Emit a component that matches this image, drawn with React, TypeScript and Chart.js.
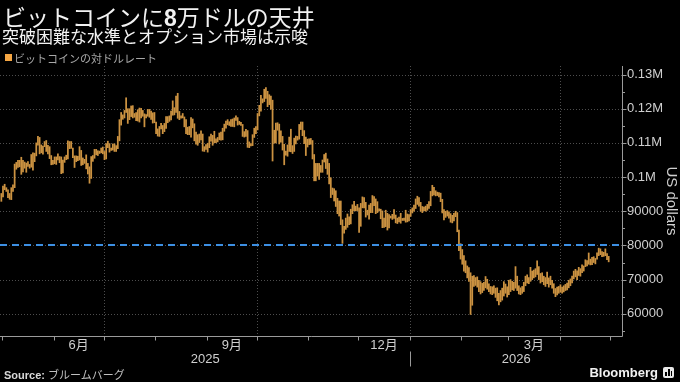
import React, { useEffect, useRef } from 'react';
import { Chart, registerables } from 'chart.js';

Chart.register(...registerables);

// ---------------- data ----------------
// first bar = 2025-04-30, one bar per day (values in thousand USD)
const START_YEAR = 2025;
const START_MONTH = 4;
const START_DAY = 30;

const lows = [
  92.9,
  // May 2025
  94.2, 96.3, 95.8, 94.0, 93.5, 93.4, 95.8, 96.9, 102.3, 102.8, 103.0, 100.8, 101.5, 102.6, 101.4, 103.1,
  102.6, 102.9, 102.0, 104.5, 106.2, 109.3, 106.8, 107.1, 106.7, 108.9, 107.5, 106.8, 105.4, 103.6, 103.7,
  // Jun
  103.9, 103.7, 105.0, 104.2, 101.0, 101.2, 104.3, 105.1, 105.3, 108.3, 108.4, 105.7, 102.8, 104.5, 104.8,
  105.0, 103.4, 103.6, 104.0, 102.4, 100.9, 98.2, 99.6, 104.6, 105.5, 106.5, 106.3, 106.9, 107.1, 106.8,
  // Jul
  105.1, 105.3, 108.6, 107.3, 107.8, 107.9, 107.5, 107.5, 108.3, 110.6, 115.2, 116.9, 117.3, 118.9, 115.7,
  116.8, 117.7, 117.3, 117.5, 116.5, 116.4, 116.1, 117.3, 117.8, 114.7, 117.3, 117.8, 117.5, 116.9, 115.8, 115.9,
  // Aug
  112.7, 112.0, 111.9, 114.1, 112.7, 113.3, 114.2, 115.9, 116.3, 116.7, 118.1, 118.2, 118.9, 117.2, 116.8,
  117.2, 117.3, 114.7, 112.7, 112.4, 112.4, 111.7, 114.4, 110.6, 109.6, 109.3, 110.1, 110.9, 107.6, 107.5, 108.1,
  // Sep
  107.3, 108.6, 110.5, 109.3, 110.0, 110.1, 110.3, 110.9, 110.8, 110.9, 113.4, 114.3, 115.3, 115.1, 114.8,
  114.8, 114.7, 116.6, 115.2, 115.4, 115.1, 111.9, 111.7, 111.9, 108.7, 108.6, 109.1, 109.2, 111.6, 112.7,
  // Oct
  113.8, 117.9, 119.3, 121.7, 122.1, 123.0, 120.6, 121.2, 119.9, 104.7, 109.9, 110.0, 113.7, 109.7, 110.2,
  107.9, 103.6, 106.4, 106.1, 107.5, 107.4, 106.9, 107.5, 109.7, 110.8, 111.1, 113.9, 112.1, 109.8, 106.3, 108.8,
  // Nov
  109.5, 109.6, 105.3, 98.9, 98.9, 100.3, 99.3, 101.4, 101.4, 104.4, 102.5, 100.8, 98.0, 94.0, 94.9,
  93.0, 91.4, 89.3, 88.6, 86.1, 80.6, 83.6, 84.7, 85.3, 86.1, 86.3, 89.3, 90.2, 90.1, 90.2,
  // Dec
  83.8, 85.6, 91.0, 91.0, 88.3, 88.9, 87.7, 89.6, 89.6, 91.6, 89.3, 89.6, 90.1, 87.8, 85.2,
  85.3, 85.5, 84.5, 85.1, 88.0, 87.6, 87.9, 86.6, 86.4, 86.9, 86.5, 87.3, 87.3, 86.8, 86.9, 87.2,
  // Jan 2026
  88.5, 89.5, 90.0, 90.8, 92.0, 91.5, 90.0, 89.6, 90.2, 90.0, 90.3, 90.8, 91.6, 94.5, 94.8, 94.5,
  94.6, 94.2, 92.8, 89.5, 87.5, 88.2, 88.6, 88.0, 86.8, 86.6, 87.2, 88.4, 84.0, 78.5, 76.0,
  // Feb
  74.5, 72.5, 72.0, 70.5, 69.5, 59.8, 62.5, 68.0, 68.3, 67.8, 66.5, 65.8, 66.2, 66.8, 67.6,
  67.2, 66.5, 65.8, 65.6, 66.0, 64.8, 63.8, 62.6, 63.5, 64.0, 65.2, 66.0, 64.9,
  // Mar
  65.6, 66.5, 67.0, 66.8, 67.5, 66.8, 65.8, 65.6, 66.0, 66.5, 68.2, 69.0, 68.8, 69.5, 70.0,
  70.5, 70.8, 71.5, 70.0, 69.0, 69.4, 68.5, 68.0, 68.8, 67.8, 68.5, 67.5, 66.0, 65.0, 65.5, 66.0,
  // Apr
  66.3, 66.0, 66.4, 66.8, 67.0, 67.6, 68.2, 69.0, 70.2, 70.8, 70.0, 71.2, 71.0, 72.0, 72.5,
  73.8, 74.0, 74.5, 74.3, 74.4, 75.0, 74.6, 76.0, 77.0, 77.3, 76.7, 76.8, 77.0, 75.8, 75.2,
];

const highs = [
  95.2,
  // May 2025
  97.4, 97.9, 96.9, 96.3, 95.2, 96.9, 97.7, 103.8, 104.3, 104.9, 104.9, 105.8, 104.9, 104.4, 104.1, 104.5,
  103.7, 106.6, 107.1, 107.0, 110.0, 111.9, 111.6, 109.4, 109.1, 110.4, 110.7, 109.3, 108.9, 106.3, 104.9,
  // Jun
  105.9, 105.9, 106.8, 106.0, 105.9, 105.0, 105.9, 106.4, 110.6, 110.4, 110.4, 108.5, 106.2, 106.2, 106.1,
  108.9, 107.8, 105.6, 105.2, 106.5, 104.0, 103.0, 106.0, 106.3, 108.1, 108.1, 107.7, 107.6, 108.5, 108.8,
  // Jul
  107.5, 109.8, 110.5, 109.8, 108.5, 109.7, 109.7, 109.2, 111.9, 116.8, 118.9, 118.2, 119.5, 123.2, 120.0,
  120.0, 120.8, 120.9, 118.6, 118.9, 119.7, 120.2, 120.1, 119.5, 118.5, 118.3, 119.8, 119.8, 119.3, 118.8, 118.9,
  // Aug
  116.1, 114.1, 114.8, 115.7, 115.1, 115.7, 117.7, 117.7, 117.9, 119.3, 122.3, 120.3, 123.7, 124.5, 119.2,
  117.9, 118.6, 117.6, 116.8, 114.6, 114.8, 117.4, 117.0, 115.6, 113.2, 112.4, 112.6, 113.5, 112.6, 108.9, 109.5,
  // Sep
  109.9, 111.8, 112.6, 112.2, 113.4, 111.2, 111.6, 112.9, 113.2, 114.3, 115.5, 116.4, 116.8, 116.2, 116.8,
  117.0, 117.3, 117.9, 117.4, 116.3, 116.0, 115.4, 113.3, 114.0, 113.6, 110.3, 109.8, 112.4, 114.3, 114.8,
  // Oct
  118.6, 121.0, 123.9, 122.9, 125.7, 126.2, 125.1, 124.1, 123.7, 122.5, 113.7, 115.8, 115.9, 115.5, 113.5,
  111.9, 109.6, 107.6, 109.4, 111.7, 114.0, 109.2, 111.4, 112.0, 111.9, 115.4, 116.1, 116.1, 113.6, 111.7, 111.1,
  // Nov
  111.2, 111.3, 110.7, 106.6, 104.0, 104.0, 104.0, 103.4, 105.0, 106.6, 107.0, 105.3, 104.0, 99.8, 96.8,
  96.6, 96.0, 93.8, 93.0, 93.0, 87.5, 85.6, 88.0, 89.2, 88.4, 90.6, 91.9, 92.9, 91.5, 92.0,
  // Dec
  91.0, 92.3, 94.2, 94.0, 92.6, 90.3, 91.8, 92.3, 94.6, 94.3, 93.6, 92.8, 90.7, 90.6, 90.1,
  88.0, 90.3, 89.4, 89.0, 88.6, 89.1, 90.5, 88.9, 88.0, 88.3, 89.4, 87.9, 88.0, 90.3, 89.2, 89.0,
  // Jan 2026
  90.5, 91.0, 91.8, 93.6, 94.4, 94.0, 92.6, 91.4, 91.2, 91.5, 92.0, 92.8, 95.8, 97.6, 97.0, 96.0,
  95.6, 95.5, 95.3, 93.5, 90.5, 90.0, 90.2, 89.8, 89.3, 88.8, 89.4, 90.0, 89.6, 84.5, 80.5,
  // Feb
  78.8, 77.0, 75.5, 74.0, 73.5, 72.0, 71.0, 71.2, 70.6, 70.8, 69.8, 69.4, 68.9, 69.2, 70.9,
  70.1, 68.8, 68.0, 67.9, 68.2, 67.5, 67.6, 66.0, 66.8, 67.5, 69.4, 68.7, 67.9,
  // Mar
  69.8, 70.0, 69.5, 69.2, 73.8, 71.0, 68.2, 67.6, 68.0, 69.2, 71.0, 71.4, 70.6, 73.6, 72.5,
  72.8, 73.2, 75.5, 73.8, 71.8, 72.0, 71.0, 70.6, 72.2, 70.5, 71.0, 69.8, 68.8, 67.4, 67.8, 68.0,
  // Apr
  68.5, 67.8, 68.2, 68.6, 69.0, 69.8, 70.2, 71.0, 72.5, 73.0, 72.6, 73.6, 73.2, 74.3, 74.0,
  75.8, 75.6, 77.8, 76.0, 76.5, 76.7, 76.2, 77.8, 79.2, 79.0, 78.2, 78.0, 79.0, 77.6, 76.8,
];

const yTicks = [60000, 70000, 80000, 90000, 100000, 110000, 120000, 130000];
const yTickLabels = ['60000', '70000', '80000', '90000', '0.1M', '0.11M', '0.12M', '0.13M'];
const yMinorTicks = [55000, 65000, 75000, 85000, 95000, 105000, 115000, 125000];
const ceilingLevel = 80000;
const monthLabelText: Record<number, string> = { 6: '6月', 9: '9月', 12: '12月', 3: '3月' };
const yearLabels = ['2025', '2026'];

// ---------------- layout / style ----------------
const Y_MIN = 53500;
const Y_MAX = 132500;
const X_MIN = -0.8;
const X_MAX = 373;
const BAR_COLOR = '#cb9241';
const GRID = 'rgba(255,255,255,0.30)';
const AXIS = '#9a9a9a';
const TEXT = '#cfcfcf';
const LATIN = "'Liberation Sans', Arial, sans-serif";
const CJK = "'Noto Sans CJK JP', sans-serif";

type Boundary = { i: number; m: number; y: number };
const boundaries: Boundary[] = [];
for (let i = 0; i <= 376; i++) {
  const d = new Date(Date.UTC(START_YEAR, START_MONTH - 1, START_DAY + i));
  if (d.getUTCDate() === 1) boundaries.push({ i, m: d.getUTCMonth() + 1, y: d.getUTCFullYear() });
}

const bbgPlugin = {
  id: 'bbgAxes',
  beforeDatasetsDraw(chart: any) {
    const { ctx, chartArea: a, scales } = chart;
    const x = scales.x;
    const y = scales.y;
    ctx.save();
    ctx.strokeStyle = GRID;
    ctx.lineWidth = 1;
    ctx.setLineDash([1, 2]);
    for (const v of yTicks) {
      const py = Math.round(y.getPixelForValue(v)) + 0.5;
      ctx.beginPath();
      ctx.moveTo(a.left, py);
      ctx.lineTo(a.right, py);
      ctx.stroke();
    }
    for (const b of boundaries) {
      if (b.m % 3 !== 1) continue; // Jan, Apr, Jul, Oct
      const px = Math.round(x.getPixelForValue(b.i - 0.5)) + 0.5;
      if (px <= a.left || px >= a.right) continue;
      ctx.beginPath();
      ctx.moveTo(px, a.top);
      ctx.lineTo(px, a.bottom);
      ctx.stroke();
    }
    ctx.restore();
  },
  afterDatasetsDraw(chart: any) {
    const { ctx, chartArea: a, scales } = chart;
    const x = scales.x;
    const y = scales.y;
    ctx.save();
    // ceiling line
    const pc = Math.round(y.getPixelForValue(ceilingLevel));
    ctx.strokeStyle = '#3d8fe2';
    ctx.lineWidth = 2;
    ctx.setLineDash([7, 5]);
    ctx.beginPath();
    ctx.moveTo(a.left, pc);
    ctx.lineTo(a.right, pc);
    ctx.stroke();
    ctx.setLineDash([]);

    // axes
    ctx.strokeStyle = AXIS;
    ctx.lineWidth = 1;
    const ax = Math.round(a.right) + 0.5;
    const ay = Math.round(a.bottom) + 0.5;
    ctx.beginPath();
    ctx.moveTo(ax, a.top);
    ctx.lineTo(ax, ay);
    ctx.moveTo(a.left, ay);
    ctx.lineTo(ax, ay);
    ctx.stroke();
    ctx.beginPath();
    for (const v of yTicks) {
      const py = Math.round(y.getPixelForValue(v)) + 0.5;
      ctx.moveTo(ax, py);
      ctx.lineTo(ax + 4, py);
    }
    for (const v of yMinorTicks) {
      const py = Math.round(y.getPixelForValue(v)) + 0.5;
      ctx.moveTo(ax, py);
      ctx.lineTo(ax + 2.5, py);
    }
    for (const b of boundaries) {
      const px = Math.round(x.getPixelForValue(b.i - 0.5)) + 0.5;
      if (px < a.left || px > a.right) continue;
      ctx.moveTo(px, ay);
      ctx.lineTo(px, ay + 4);
    }
    ctx.stroke();

    // month labels
    ctx.fillStyle = TEXT;
    ctx.font = `13px ${LATIN}, ${CJK}`;
    ctx.textAlign = 'center';
    ctx.textBaseline = 'middle';
    for (let k = 0; k < boundaries.length - 1; k++) {
      const b = boundaries[k];
      const t = monthLabelText[b.m];
      if (!t) continue;
      const c = (b.i + boundaries[k + 1].i) / 2 - 0.5;
      ctx.fillText(t, x.getPixelForValue(c), ay + 9);
    }
    // year labels + separator
    const jan = boundaries.find((b) => b.m === 1);
    if (jan) {
      const pj = Math.round(x.getPixelForValue(jan.i - 0.5)) + 0.5;
      ctx.fillText(yearLabels[0], (a.left + pj) / 2, ay + 23);
      ctx.fillText(yearLabels[1], (pj + a.right) / 2, ay + 23);
      ctx.beginPath();
      ctx.moveTo(pj, ay + 15);
      ctx.lineTo(pj, ay + 30);
      ctx.stroke();
    }
    ctx.restore();
  },
};

export default function App() {
  const ref = useRef<HTMLCanvasElement>(null);

  useEffect(() => {
    document.body.style.margin = '0';
    document.body.style.background = '#000';
    const data = lows.map((lo, i) => ({ x: i, y: [lo * 1000, highs[i] * 1000] }));
    const chart = new Chart(ref.current as HTMLCanvasElement, {
      type: 'bar',
      data: {
        datasets: [
          {
            data: data as any,
            backgroundColor: BAR_COLOR,
            borderWidth: 0,
            barThickness: 1.1,
          } as any,
        ],
      },
      options: {
        animation: false,
        responsive: false,
        maintainAspectRatio: false,
        events: [],
        layout: { padding: { top: 66, bottom: 46, left: 0, right: 0 } },
        plugins: { legend: { display: false }, tooltip: { enabled: false } },
        scales: {
          x: { type: 'linear', min: X_MIN, max: X_MAX, display: false, offset: false },
          y: {
            position: 'right',
            min: Y_MIN,
            max: Y_MAX,
            afterBuildTicks: (s: any) => {
              s.ticks = yTicks.map((v) => ({ value: v }));
            },
            afterFit: (s: any) => {
              s.width = 58;
            },
            grid: { display: false, drawTicks: false },
            border: { display: false },
            ticks: {
              padding: 5,
              color: TEXT,
              font: { family: LATIN, size: 13 },
              callback: (v: any) => {
                const k = yTicks.indexOf(Number(v));
                return k >= 0 ? yTickLabels[k] : '';
              },
            },
            title: {
              display: true,
              text: 'US dollars',
              color: TEXT,
              font: { family: LATIN, size: 15 },
              padding: { top: 0, bottom: 0 },
            },
          },
        },
      } as any,
      plugins: [bbgPlugin],
    });
    return () => chart.destroy();
  }, []);

  return (
    <div
      style={{
        position: 'fixed',
        left: 0,
        top: 0,
        width: 680,
        height: 382,
        background: '#000',
        overflow: 'hidden',
        color: '#f0f0f0',
      }}
    >
      <canvas
        ref={ref}
        width={680}
        height={382}
        style={{ position: 'absolute', left: 0, top: 0, width: 680, height: 382, display: 'block' }}
      />
      <div
        style={{
          position: 'absolute',
          left: 3,
          top: 3,
          fontFamily: CJK,
          fontSize: 23,
          lineHeight: '26px',
          whiteSpace: 'nowrap',
          color: '#f2f2f2',
        }}
      >
        ビットコインに<span style={{ fontFamily: LATIN, fontWeight: 700 }}>8</span>万ドルの天井
      </div>
      <div
        style={{
          position: 'absolute',
          left: 2,
          top: 26,
          fontFamily: CJK,
          fontSize: 17,
          lineHeight: '20px',
          whiteSpace: 'nowrap',
          color: '#f2f2f2',
        }}
      >
        突破困難な水準とオプション市場は示唆
      </div>
      <div style={{ position: 'absolute', left: 5, top: 54, width: 7, height: 7, background: '#f5a643' }} />
      <div
        style={{
          position: 'absolute',
          left: 14,
          top: 50,
          fontFamily: CJK,
          fontSize: 11,
          lineHeight: '16px',
          whiteSpace: 'nowrap',
          color: '#a8a8a8',
        }}
      >
        ビットコインの対ドルレート
      </div>
      <div
        style={{
          position: 'absolute',
          left: 4,
          top: 366,
          fontSize: 11,
          lineHeight: '16px',
          whiteSpace: 'nowrap',
          color: '#d8d8d8',
        }}
      >
        <span style={{ fontFamily: LATIN, fontWeight: 700 }}>Source: </span>
        <span style={{ fontFamily: CJK, color: '#c0c0c0' }}>ブルームバーグ</span>
      </div>
      <div
        style={{
          position: 'absolute',
          right: 22,
          top: 365,
          fontFamily: LATIN,
          fontWeight: 700,
          fontSize: 13,
          lineHeight: '16px',
          whiteSpace: 'nowrap',
          color: '#f2f2f2',
        }}
      >
        Bloomberg
      </div>
      <div
        style={{
          position: 'absolute',
          left: 663,
          top: 367,
          width: 11,
          height: 11,
          borderRadius: 2,
          background: '#e8e8e8',
        }}
      >
        <div style={{ position: 'absolute', left: 2, top: 5, width: 2, height: 4, background: '#000' }} />
        <div style={{ position: 'absolute', left: 5, top: 2, width: 2, height: 7, background: '#000' }} />
        <div style={{ position: 'absolute', left: 8, top: 4, width: 1, height: 5, background: '#000' }} />
      </div>
    </div>
  );
}
